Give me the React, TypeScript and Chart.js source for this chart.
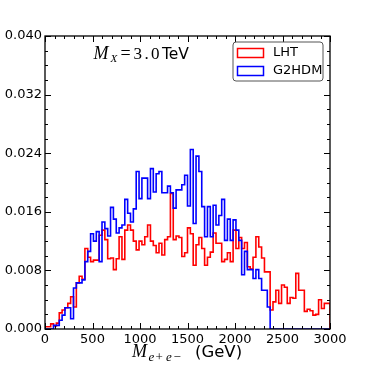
import React, { useEffect, useRef } from "react";
import { Chart, registerables } from "chart.js";

Chart.register(...registerables);

// Histogram bins: 30 GeV wide, 0 to 3000 GeV
const binWidth = 30;
const binCount = 100;

const lhtValues = [
  0, 0.0003, 0.0003, 0.0007, 0.0004, 0.0008, 0.0022, 0.0026, 0.0029, 0.0035,
  0.0044, 0.003, 0.0063, 0.0072, 0.0068, 0.011, 0.0098, 0.0092, 0.0094, 0.0094,
  0.0128, 0.0135, 0.0122, 0.0096, 0.0097, 0.0081, 0.0096, 0.0126, 0.0095, 0.0135,
  0.0142, 0.0135, 0.012, 0.0108, 0.012, 0.0115, 0.0126, 0.0142, 0.012, 0.0114,
  0.0104, 0.0117, 0.0101, 0.0122, 0.0126, 0.0185, 0.0122, 0.0127, 0.0125, 0.0099,
  0.0104, 0.0138, 0.013, 0.0087, 0.0115, 0.0125, 0.011, 0.0087, 0.0098, 0.0105,
  0.0131, 0.0117, 0.0117, 0.0092, 0.0095, 0.0104, 0.0092, 0.0135, 0.011, 0.0125,
  0.011, 0.0118, 0.0085, 0.0082, 0.0098, 0.0126, 0.0112, 0.0097, 0.0078, 0.0078,
  0.0026, 0.0037, 0.0053, 0.0035, 0.006, 0.0057, 0.0035, 0.0043, 0.0042, 0.0076,
  0.0053, 0.0053, 0.0024, 0.0027, 0.0025, 0.0019, 0.002, 0.004, 0.0028, 0.0035,
];

const g2hdmValues = [
  0, 0, 0, 0, 0.0005, 0.0005, 0.0012, 0.0019, 0.0029, 0.0029,
  0.0014, 0.0056, 0.0063, 0.0063, 0.0067, 0.0092, 0.0106, 0.013, 0.012, 0.0133,
  0.0092, 0.0146, 0.0137, 0.0127, 0.0166, 0.015, 0.0131, 0.0138, 0.0142, 0.0177,
  0.0158, 0.0146, 0.0164, 0.0215, 0.0178, 0.0206, 0.0206, 0.0178, 0.0219, 0.0187,
  0.0212, 0.0215, 0.0186, 0.0186, 0.0195, 0.0186, 0.0165, 0.019, 0.019, 0.0197,
  0.021, 0.0168, 0.0245, 0.0144, 0.0236, 0.0215, 0.0167, 0.0126, 0.0167, 0.0126,
  0.0169, 0.0142, 0.0155, 0.0177, 0.0121, 0.015, 0.0121, 0.0149, 0.0135, 0.0121,
  0.0074, 0.0106, 0.0081, 0.0081, 0.0069, 0.0081, 0.0069, 0.0053, 0.0053, 0.003,
  0, 0, 0, 0, 0, 0, 0, 0, 0, 0,
  0, 0, 0, 0, 0, 0, 0, 0, 0, 0,
];

const xTickValues = [0, 500, 1000, 1500, 2000, 2500, 3000];
const yTickValues = [0, 0.008, 0.016, 0.024, 0.032, 0.04];
const seriesLabels = ["LHT", "G2HDM"];
const seriesColors = ["#ff0000", "#0000ff"];

const binEdges = Array.from({ length: binCount + 1 }, (_, i) => i * binWidth);

function stepPoints(values: number[]) {
  const pts: { x: number; y: number }[] = [{ x: binEdges[0], y: 0 }];
  values.forEach((v, i) => pts.push({ x: binEdges[i], y: v }));
  pts.push({ x: binEdges[binCount], y: values[values.length - 1] });
  pts.push({ x: binEdges[binCount], y: 0 });
  return pts;
}

const decorPlugin = {
  id: "decor",
  afterDraw(chart: any) {
    const { ctx, chartArea: a, scales } = chart;
    const xs = scales.x;
    const ys = scales.y;
    ctx.save();
    ctx.strokeStyle = "#000";
    ctx.lineWidth = 1;
    // ticks (inward, all four sides)
    for (let k = 0; k <= 30; k++) {
      const px = Math.round(xs.getPixelForValue(k * 100)) + 0.5;
      const len = k % 5 === 0 ? 6 : 3;
      ctx.beginPath();
      ctx.moveTo(px, a.bottom);
      ctx.lineTo(px, a.bottom - len);
      ctx.moveTo(px, a.top);
      ctx.lineTo(px, a.top + len);
      ctx.stroke();
    }
    for (let k = 0; k <= 20; k++) {
      const py = Math.round(ys.getPixelForValue(k * 0.002)) + 0.5;
      const len = k % 4 === 0 ? 6 : 3;
      ctx.beginPath();
      ctx.moveTo(a.left, py);
      ctx.lineTo(a.left + len, py);
      ctx.moveTo(a.right, py);
      ctx.lineTo(a.right - len, py);
      ctx.stroke();
    }
    // frame
    ctx.lineWidth = 1.3;
    ctx.strokeRect(a.left, a.top, a.right - a.left, a.bottom - a.top);

    // annotation M_X = 3.0 TeV
    ctx.fillStyle = "#000";
    ctx.textBaseline = "alphabetic";
    ctx.textAlign = "left";
    const by = 58.5;
    ctx.font = "italic 18px 'Liberation Serif'";
    ctx.fillText("M", 93.5, by);
    ctx.font = "italic 11px 'Liberation Serif'";
    ctx.fillText("X", 110.5, by + 3.5);
    ctx.font = "18px 'Liberation Serif'";
    ctx.fillText("=", 120.5, by);
    ctx.font = "17px 'Liberation Serif'";
    ctx.fillText("3", 133.5, by);
    ctx.fillText(".", 144.5, by);
    ctx.fillText("0", 151, by);
    ctx.font = "15.5px 'DejaVu Sans'";
    ctx.fillText("TeV", 162, by);

    // x axis title
    const ty = 357;
    ctx.font = "italic 18px 'Liberation Serif'";
    ctx.fillText("M", 132, ty);
    ctx.font = "italic 13px 'Liberation Serif'";
    ctx.fillText("e", 148.5, ty + 4);
    ctx.font = "13px 'Liberation Serif'";
    ctx.fillText("+", 155.5, ty + 4);
    ctx.font = "italic 13px 'Liberation Serif'";
    ctx.fillText("e", 166, ty + 4);
    ctx.font = "13px 'Liberation Serif'";
    ctx.fillText("\u2212", 173.5, ty + 4);
    ctx.font = "16.5px 'DejaVu Sans'";
    ctx.fillText("(GeV)", 195, ty);

    // legend
    const lx = 233, ly = 42, lw = 90, lh = 39, r = 3;
    ctx.beginPath();
    ctx.moveTo(lx + r, ly);
    ctx.lineTo(lx + lw - r, ly);
    ctx.quadraticCurveTo(lx + lw, ly, lx + lw, ly + r);
    ctx.lineTo(lx + lw, ly + lh - r);
    ctx.quadraticCurveTo(lx + lw, ly + lh, lx + lw - r, ly + lh);
    ctx.lineTo(lx + r, ly + lh);
    ctx.quadraticCurveTo(lx, ly + lh, lx, ly + lh - r);
    ctx.lineTo(lx, ly + r);
    ctx.quadraticCurveTo(lx, ly, lx + r, ly);
    ctx.closePath();
    ctx.fillStyle = "#fff";
    ctx.fill();
    ctx.strokeStyle = "#555";
    ctx.lineWidth = 1;
    ctx.stroke();
    ctx.font = "13px 'DejaVu Sans'";
    ctx.textBaseline = "middle";
    seriesLabels.forEach((lab, i) => {
      const yy = 48 + i * 18;
      ctx.strokeStyle = seriesColors[i];
      ctx.lineWidth = 1.5;
      ctx.strokeRect(237.5, yy + 0.5, 26, 9);
      ctx.fillStyle = "#000";
      ctx.fillText(lab, 273, yy + 5);
    });
    ctx.restore();
  },
};

export default function App() {
  const ref = useRef<HTMLCanvasElement | null>(null);
  useEffect(() => {
    if (!ref.current) return;
    const chart = new Chart(ref.current, {
      type: "line",
      data: {
        datasets: [
          {
            label: seriesLabels[0],
            data: stepPoints(lhtValues),
            borderColor: seriesColors[0],
            borderWidth: 1.6,
            stepped: "after",
            pointRadius: 0,
            fill: false,
            order: 2,
          },
          {
            label: seriesLabels[1],
            data: stepPoints(g2hdmValues),
            borderColor: seriesColors[1],
            borderWidth: 1.6,
            stepped: "after",
            pointRadius: 0,
            fill: false,
            order: 1,
          },
        ],
      },
      options: {
        animation: false,
        responsive: false,
        devicePixelRatio: 1,
        layout: { padding: { top: 36, right: 37, left: 0, bottom: 0 } },
        plugins: { legend: { display: false }, tooltip: { enabled: false }, title: { display: false } },
        scales: {
          x: {
            type: "linear",
            min: 0,
            max: 3000,
            afterFit: (s: any) => { s.height = 38; },
            afterBuildTicks: (s: any) => { s.ticks = xTickValues.map((v) => ({ value: v })); },
            grid: { display: false, drawTicks: false },
            border: { display: false },
            ticks: {
              color: "#000",
              font: { family: "'DejaVu Sans'", size: 13 },
              padding: 3,
              maxRotation: 0,
              autoSkip: false,
              callback: (v: any) => String(Math.round(Number(v))),
            },
          },
          y: {
            type: "linear",
            min: 0,
            max: 0.04,
            afterFit: (s: any) => { s.width = 45; },
            afterBuildTicks: (s: any) => { s.ticks = yTickValues.map((v) => ({ value: v })); },
            grid: { display: false, drawTicks: false },
            border: { display: false },
            ticks: {
              color: "#000",
              font: { family: "'DejaVu Sans'", size: 13 },
              padding: 3,
              autoSkip: false,
              callback: (v: any) => Number(v).toFixed(3),
            },
          },
        },
      },
      plugins: [decorPlugin],
    });
    return () => chart.destroy();
  }, []);
  return (
    <div style={{ position: "absolute", left: 0, top: 0, width: 367, height: 367, background: "#fff" }}>
      <canvas ref={ref} width={367} height={367} />
    </div>
  );
}
